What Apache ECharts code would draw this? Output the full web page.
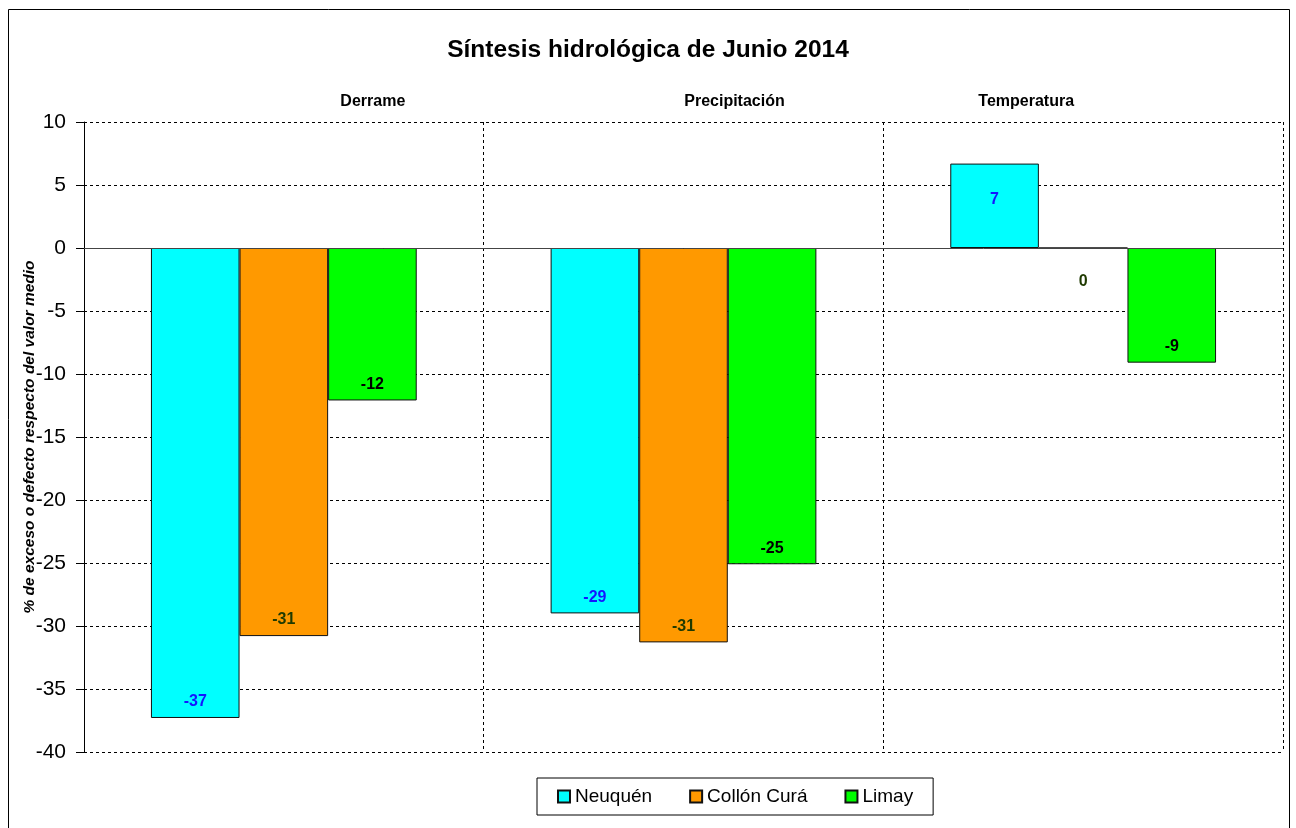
<!DOCTYPE html>
<html>
<head>
<meta charset="utf-8">
<script src="https://cdn.jsdelivr.net/npm/echarts@6/dist/echarts.min.js"></script>
<style>
  html, body { margin: 0; padding: 0; background: #fff; }
  #chart { width: 1296px; height: 828px; }
</style>
</head>
<body>
<div id="chart"></div>
<script>
// categorias del eje X (arriba)
const categories = ['Derrame', 'Precipitación', 'Temperatura'];
// % de exceso o defecto por cuenca
const neuquen = [-37.3, -29.0, 6.7];
const collonCura = [-30.8, -31.3, 0];
const limay = [-12.1, -25.1, -9.1];
const seriesNames = ['Neuquén', 'Collón Curá', 'Limay'];
const yTicks = { min: -40, max: 10, interval: 5 };

const colors = ['#00ffff', '#ff9900', '#00ff00'];
const labelColors = ['#1515ff', '#1f3a00', '#000000'];
// desplazamiento horizontal de los titulos de categoria (como en el original)
const catShift = [89, 51, -57];

// posicion de la etiqueta segun el signo del valor
function toItems(values) {
    return values.map(function (v) {
        let label;
        if (v > 0) {
            label = { position: 'insideTop', distance: 28 };
        } else if (v === 0) {
            label = { position: 'bottom', distance: 25 };
        } else {
            label = { position: 'insideBottom', distance: 8 };
        }
        return { value: v, label: label };
    });
}

function makeSeries(name, values, idx) {
    return {
        name: name,
        type: 'bar',
        barGap: '0%',
        barCategoryGap: '33.5%',
        data: toItems(values),
        itemStyle: { color: colors[idx], borderColor: '#111', borderWidth: 1 },
        label: {
            show: true,
            formatter: function (p) { return Math.round(p.value); },
            color: labelColors[idx],
            fontWeight: 'bold',
            fontSize: 16,
            fontFamily: 'Liberation Sans'
        },
        emphasis: { disabled: true }
    };
}

const myChart = echarts.init(document.getElementById('chart'));
const series = [
    makeSeries(seriesNames[0], neuquen, 0),
    makeSeries(seriesNames[1], collonCura, 1),
    makeSeries(seriesNames[2], limay, 2)
];
// linea del cero
series[0].markLine = {
    silent: true,
    symbol: ['none', 'none'],
    label: { show: false },
    lineStyle: { color: '#444', width: 1, type: 'solid' },
    data: [{ yAxis: 0 }]
};

const catData = categories.map(function (c, i) {
    const s = catShift[i];
    return {
        value: c,
        textStyle: { padding: s >= 0 ? [0, 0, 0, 2 * s] : [0, -2 * s, 0, 0] }
    };
});

const option = {
    animation: false,
    textStyle: { fontFamily: 'Liberation Sans' },
    title: {
        text: 'Síntesis hidrológica de Junio 2014',
        left: 'center',
        top: 33,
        textStyle: { fontSize: 24.5, fontWeight: 'bold', color: '#000', fontFamily: 'Liberation Sans' }
    },
    graphic: [{
        type: 'rect',
        shape: { x: 8.5, y: 9.5, width: 1281, height: 840 },
        style: { fill: 'none', stroke: '#000', lineWidth: 1 },
        silent: true
    }],
    legend: {
        data: seriesNames,
        left: 537,
        top: 778,
        padding: [9, 20],
        itemGap: 37,
        itemWidth: 12,
        itemHeight: 12,
        borderColor: '#000',
        borderWidth: 1,
        icon: 'rect',
        textStyle: { fontSize: 19, color: '#000', fontFamily: 'Liberation Sans' }
    },
    grid: { left: 84, right: 13, top: 122, bottom: 76 },
    xAxis: {
        type: 'category',
        data: catData,
        position: 'top',
        axisLine: { show: false, onZero: false },
        axisTick: { show: false },
        axisLabel: { margin: 12, fontSize: 16, fontWeight: 'bold', color: '#000' },
        splitLine: { show: true, lineStyle: { color: '#000', type: [3, 3], width: 1 } }
    },
    yAxis: {
        type: 'value',
        min: yTicks.min,
        max: yTicks.max,
        interval: yTicks.interval,
        name: '% de exceso o defecto respecto del valor medio',
        nameLocation: 'middle',
        nameGap: 46,
        nameMoveOverlap: false,
        nameTextStyle: { fontSize: 15.5, fontWeight: 'bold', fontStyle: 'italic', color: '#000' },
        axisLine: { show: true, lineStyle: { color: '#000', width: 1 } },
        axisTick: { show: true, length: 8, lineStyle: { color: '#000' } },
        axisLabel: { fontSize: 21, color: '#000', margin: 18 },
        splitLine: { show: true, lineStyle: { color: '#000', type: [3, 3], width: 1 } }
    },
    series: series
};
myChart.setOption(option);
</script>
</body>
</html>
